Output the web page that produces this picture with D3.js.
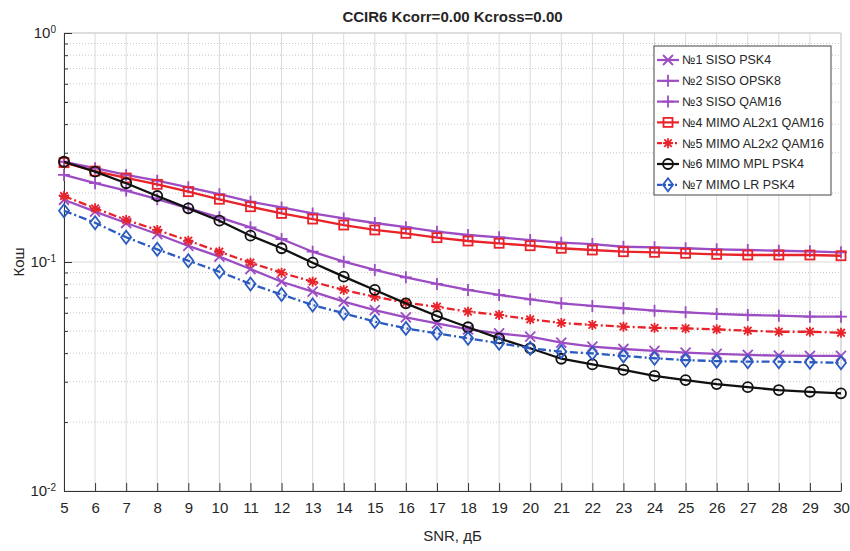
<!DOCTYPE html>
<html>
<head>
<meta charset="utf-8">
<script src="https://cdn.jsdelivr.net/npm/d3@7"></script>
<style>
  body { margin: 0; background: #fff; }
  #chart-container { width: 850px; height: 551px; }
  text { font-family: "Liberation Sans", Arial, sans-serif; fill: #262626; }
  .grid line { stroke: #dadada; stroke-width: 1; }
  .grid-minor line { stroke: #c8c8c8; stroke-width: 1; stroke-dasharray: 1,2; }
  .axis path, .axis line { stroke: #333; }
</style>
</head>
<body>
<div id="chart-container"></div>
<script>
const snr = [5, 6, 7, 8, 9, 10, 11, 12, 13, 14, 15, 16, 17, 18, 19, 20, 21, 22, 23, 24, 25, 26, 27, 28, 29, 30]

const sisoPsk4 = [0.187, 0.166, 0.148, 0.1325, 0.1175, 0.1055, 0.0932, 0.082, 0.0742, 0.0671, 0.0617, 0.0573, 0.054, 0.0508, 0.0488, 0.0472, 0.0445, 0.0427, 0.0417, 0.0409, 0.0402, 0.0397, 0.0393, 0.039, 0.0389, 0.0389]
const sisoOpsk8 = [0.240, 0.221, 0.205, 0.188, 0.1715, 0.1567, 0.1417, 0.126, 0.1109, 0.1003, 0.0923, 0.0857, 0.0802, 0.0755, 0.0718, 0.0687, 0.066, 0.0643, 0.0628, 0.0613, 0.0603, 0.0593, 0.0587, 0.0583, 0.0577, 0.0577]
const sisoQam16 = [0.274, 0.257, 0.240, 0.2265, 0.212, 0.1977, 0.1834, 0.173, 0.163, 0.155, 0.148, 0.142, 0.1356, 0.1312, 0.1282, 0.1247, 0.1214, 0.1198, 0.1166, 0.1159, 0.1148, 0.1136, 0.1128, 0.112, 0.1113, 0.1102]
const mimoAl2x1 = [0.2715, 0.2496, 0.2328, 0.2184, 0.2028, 0.1879, 0.1743, 0.163, 0.154, 0.145, 0.138, 0.1334, 0.1277, 0.1235, 0.1207, 0.1178, 0.1148, 0.1128, 0.1109, 0.1102, 0.1091, 0.108, 0.1073, 0.1073, 0.1073, 0.1065]
const mimoAl2x2 = [0.1942, 0.1715, 0.1526, 0.138, 0.1239, 0.1109, 0.0993, 0.0898, 0.082, 0.0755, 0.0705, 0.0664, 0.0638, 0.0607, 0.0587, 0.0562, 0.0542, 0.0531, 0.0522, 0.0516, 0.0513, 0.0508, 0.0501, 0.0496, 0.0496, 0.0491]
const mimoMpl = [0.274, 0.248, 0.2207, 0.1942, 0.1715, 0.1515, 0.1303, 0.1148, 0.0993, 0.0863, 0.0755, 0.066, 0.0581, 0.0519, 0.0464, 0.042, 0.0378, 0.0357, 0.0338, 0.0318, 0.0305, 0.0293, 0.0284, 0.0276, 0.0271, 0.0267]
const mimoLr = [0.1675, 0.1484, 0.1282, 0.1136, 0.1013, 0.0907, 0.0802, 0.0721, 0.0649, 0.0597, 0.0549, 0.0513, 0.0488, 0.0464, 0.0442, 0.042, 0.0406, 0.0399, 0.0389, 0.038, 0.0373, 0.0369, 0.0367, 0.0367, 0.0365, 0.0363]

const seriesNames = ['№1 SISO PSK4', '№2 SISO OPSK8', '№3 SISO QAM16', '№4 MIMO AL2x1 QAM16', '№5 MIMO AL2x2 QAM16', '№6 MIMO MPL PSK4', '№7 MIMO LR PSK4']
const yDecades = [1, 0.1, 0.01]
const yExponents = ['0', '-1', '-2']

const purple = '#9c4dc3'
const red = '#e8232a'
const blue = '#2b5bc0'
const series = [
  { name: seriesNames[0], values: sisoPsk4, color: purple, dash: null, marker: 'x' },
  { name: seriesNames[1], values: sisoOpsk8, color: purple, dash: null, marker: 'plus' },
  { name: seriesNames[2], values: sisoQam16, color: purple, dash: null, marker: 'plus' },
  { name: seriesNames[3], values: mimoAl2x1, color: red, dash: null, marker: 'square' },
  { name: seriesNames[4], values: mimoAl2x2, color: red, dash: '8,3,2,3', marker: 'star' },
  { name: seriesNames[5], values: mimoMpl, color: '#111', dash: null, marker: 'circle' },
  { name: seriesNames[6], values: mimoLr, color: blue, dash: '8,3,2,3', marker: 'diamond' }
]

const plot = { left: 64, right: 841, top: 33, bottom: 491 }
const width = plot.right - plot.left
const height = plot.bottom - plot.top

const x = d3.scaleLinear()
  .range([0, width])
  .domain([5, 30])

const y = d3.scaleLog()
  .range([height, 0])
  .domain([0.01, 1])

const minorTicks = []
yDecades.slice(1).forEach(d => {
  for (let k = 2; k <= 9; k++) minorTicks.push(d * k)
})

const svg = d3.select('#chart-container').append('svg')
  .attr('width', 850)
  .attr('height', 551)
  .append('g')
  .attr('transform', 'translate(' + plot.left + ',' + plot.top + ')')

// grid
svg.append('g')
  .attr('class', 'grid')
  .selectAll('line')
  .data(snr)
  .join('line')
  .attr('x1', d => x(d)).attr('x2', d => x(d))
  .attr('y1', 0).attr('y2', height)

svg.append('g')
  .attr('class', 'grid-minor')
  .selectAll('line')
  .data(minorTicks)
  .join('line')
  .attr('x1', 0).attr('x2', width)
  .attr('y1', d => y(d)).attr('y2', d => y(d))

svg.append('g')
  .attr('class', 'grid')
  .selectAll('line')
  .data(yDecades)
  .join('line')
  .attr('x1', 0).attr('x2', width)
  .attr('y1', d => y(d)).attr('y2', d => y(d))

// box top/right
svg.append('line').attr('x1', 0).attr('x2', width).attr('y1', 0).attr('y2', 0)
  .attr('stroke', '#cfcfcf')
svg.append('line').attr('x1', width).attr('x2', width).attr('y1', 0).attr('y2', height)
  .attr('stroke', '#cfcfcf')

// axes
const xAxis = d3.axisBottom(x)
  .tickValues(snr)
  .tickSizeInner(-8)
  .tickSizeOuter(0)
  .tickPadding(11)
  .tickFormat(d3.format('d'))

svg.append('g')
  .attr('class', 'x axis')
  .attr('transform', 'translate(0,' + height + ')')
  .call(xAxis)
  .call(g => g.selectAll('text').style('font-size', '15px').attr('fill', '#333'))
  .append('text')
  .attr('x', width / 2)
  .attr('y', 50)
  .attr('text-anchor', 'middle')
  .style('font-size', '15px')
  .text('SNR, дБ')

svg.append('g')
  .attr('class', 'y axis minor')
  .call(d3.axisLeft(y).tickValues(minorTicks).tickSizeInner(-4).tickSizeOuter(0).tickFormat(''))

const yAxis = d3.axisLeft(y)
  .tickValues(yDecades)
  .tickSizeInner(-8)
  .tickSizeOuter(0)
  .tickPadding(8)

svg.append('g')
  .attr('class', 'y axis')
  .call(yAxis)
  .call(g => g.selectAll('.tick text').each(function (d, i) {
    const t = d3.select(this).text(null).style('font-size', '15px').attr('fill', '#333')
    t.append('tspan').text('10')
    t.append('tspan').attr('dy', '-0.55em').style('font-size', '10px').text(yExponents[i])
  }))

svg.append('text')
  .attr('transform', 'rotate(-90)')
  .attr('x', -height / 2)
  .attr('y', -40)
  .attr('text-anchor', 'middle')
  .style('font-size', '15px')
  .text('Кош')

svg.append('text')
  .attr('x', width / 2)
  .attr('y', -11)
  .attr('text-anchor', 'middle')
  .style('font-size', '15px')
  .style('font-weight', 'bold')
  .attr('fill', '#111')
  .text('CCIR6 Kcorr=0.00 Kcross=0.00')

// markers
const drawMarker = (g, type, color) => {
  const r = 5
  if (type === 'x') {
    g.append('path').attr('d', `M${-r},${-r}L${r},${r}M${-r},${r}L${r},${-r}`)
  } else if (type === 'plus') {
    g.append('path').attr('d', `M${-r - 1},0H${r + 1}M0,${-r - 1}V${r + 1}`)
  } else if (type === 'star') {
    const q = r * 0.75
    g.append('path').attr('d', `M${-r},0H${r}M0,${-r}V${r}M${-q},${-q}L${q},${q}M${-q},${q}L${q},${-q}`)
  } else if (type === 'square') {
    g.append('rect').attr('x', -4.5).attr('y', -4.5).attr('width', 9).attr('height', 9)
  } else if (type === 'circle') {
    g.append('circle').attr('r', 5)
  } else if (type === 'diamond') {
    g.append('path').attr('d', 'M0,-6.5L5,0L0,6.5L-5,0Z')
  }
  g.selectAll('*').attr('fill', 'none').attr('stroke', color).attr('stroke-width', 1.8)
}

const line = d3.line()
  .x((d, i) => x(snr[i]))
  .y(d => y(d))

series.forEach(s => {
  svg.append('path')
    .datum(s.values)
    .attr('fill', 'none')
    .attr('stroke', s.color)
    .attr('stroke-width', 2.3)
    .attr('stroke-dasharray', s.dash)
    .attr('d', line)

  svg.append('g')
    .selectAll('g')
    .data(s.values)
    .join('g')
    .attr('transform', (d, i) => 'translate(' + x(snr[i]) + ',' + y(d) + ')')
    .each(function () { drawMarker(d3.select(this), s.marker, s.color) })
})

// legend
const legend = svg.append('g')
  .attr('transform', 'translate(' + (654 - plot.left) + ',' + (46 - plot.top) + ')')

legend.append('rect')
  .attr('width', 177)
  .attr('height', 149)
  .attr('fill', '#fff')
  .attr('stroke', '#444')
  .attr('stroke-width', 1)

series.forEach((s, i) => {
  const row = legend.append('g')
    .attr('transform', 'translate(0,' + (14 + i * 20.8) + ')')
  row.append('line')
    .attr('x1', 3).attr('x2', 25)
    .attr('stroke', s.color)
    .attr('stroke-width', 2.2)
    .attr('stroke-dasharray', s.dash ? '5,2,2,2' : null)
  drawMarker(row.append('g').attr('transform', 'translate(14,0)'), s.marker, s.color)
  row.append('text')
    .attr('x', 28)
    .attr('dy', '0.35em')
    .style('font-size', '12.5px')
    .attr('fill', '#222')
    .text(s.name)
})
</script>
</body>
</html>
